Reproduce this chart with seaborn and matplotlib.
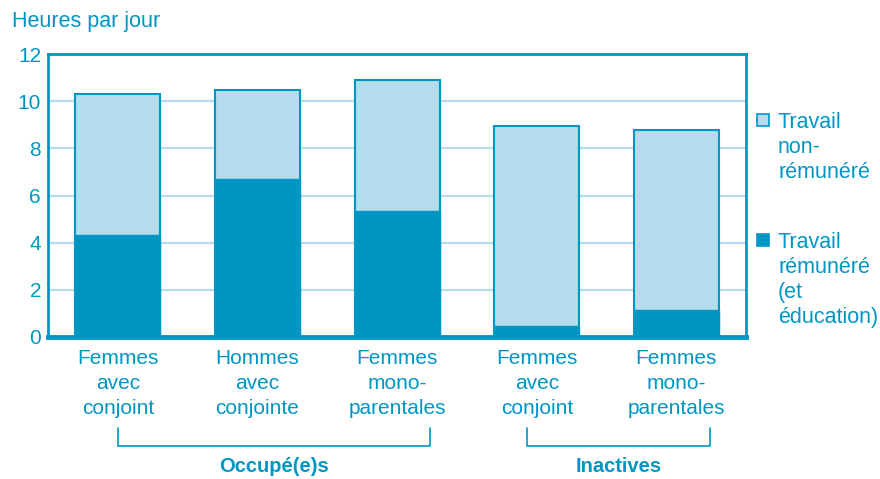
import pandas as pd
import matplotlib.pyplot as plt
import matplotlib.patches as mpatches
import seaborn as sns

# Données (heures par jour)
groupes = ["F_occ_conj", "H_occ_conj", "F_occ_mono", "F_ina_conj", "F_ina_mono"]
etiquettes = ["Femmes\navec\nconjoint", "Hommes\navec\nconjointe", "Femmes\nmono-\nparentales",
              "Femmes\navec\nconjoint", "Femmes\nmono-\nparentales"]
total = [10.3, 10.47, 10.9, 8.95, 8.77]
remunere = [4.32, 6.7, 5.35, 0.47, 1.14]

df = pd.DataFrame({"groupe": groupes, "total": total, "remunere": remunere})

BLEU = "#0096c4"
CLAIR = "#b5dcec"

sns.set_style("white")
plt.rcParams["font.family"] = ["Liberation Sans", "DejaVu Sans"]

fig = plt.figure(figsize=(8.8, 4.79), dpi=100)
ax = fig.add_axes([0.0545, 0.2965, 0.7935, 0.5905])

sns.barplot(data=df, x="groupe", y="total", order=groupes, color=CLAIR,
            width=0.61, edgecolor=BLEU, linewidth=1.5, saturation=1, ax=ax, zorder=2)
sns.barplot(data=df, x="groupe", y="remunere", order=groupes, color=BLEU,
            width=0.61, edgecolor=BLEU, linewidth=1.0, saturation=1, ax=ax, zorder=3)

ax.set_xlim(-0.5, 4.5)
ax.set_ylim(0, 12)
ax.set_yticks(range(0, 13, 2))
ax.yaxis.grid(True, color=CLAIR, linewidth=1.6, zorder=0)
ax.set_axisbelow(True)
ax.set_xlabel("")
ax.set_ylabel("")
ax.set_xticks(range(len(groupes)))
ax.set_xticklabels(etiquettes, linespacing=1.38)
ax.tick_params(axis="both", length=0, labelsize=15, labelcolor=BLEU)
ax.tick_params(axis="x", pad=9)
ax.tick_params(axis="y", pad=5)
for s in ["left", "right", "top"]:
    ax.spines[s].set_color(BLEU)
    ax.spines[s].set_linewidth(2)
ax.spines["bottom"].set_color(BLEU)
ax.spines["bottom"].set_linewidth(3.5)

fig.text(12 / 880, 1 - 22 / 479, "Heures par jour", fontsize=15.5, color=BLEU,
         va="center", ha="left")

# Accolades sous les catégories
trans = ax.get_xaxis_transform()
for x0, x1, txt in [(0.0, 2.236, "Occupé(e)s"), (2.93, 4.24, "Inactives")]:
    ax.plot([x0, x0, x1, x1], [-0.3216, -0.385, -0.385, -0.3216], color=BLEU,
            linewidth=1.2, transform=trans, clip_on=False)
    ax.text((x0 + x1) / 2, -0.459, txt, transform=trans, ha="center", va="center",
            fontsize=14.5, fontweight="bold", color=BLEU)

# Légende à droite
for y_sq, col, txt in [(120, CLAIR, "Travail\nnon-\nrémunéré"),
                       (240, BLEU, "Travail\nrémunéré\n(et\néducation)")]:
    fig.patches.append(mpatches.Rectangle((757 / 880, 1 - (y_sq + 6) / 479), 12 / 880, 12 / 479,
                                          transform=fig.transFigure, facecolor=col,
                                          edgecolor=BLEU, linewidth=1.2))
    fig.text(778 / 880, 1 - (y_sq - 8) / 479, txt, fontsize=15.5, color=BLEU,
             va="top", ha="left", linespacing=1.26)

fig.savefig("out.png", dpi=100)
